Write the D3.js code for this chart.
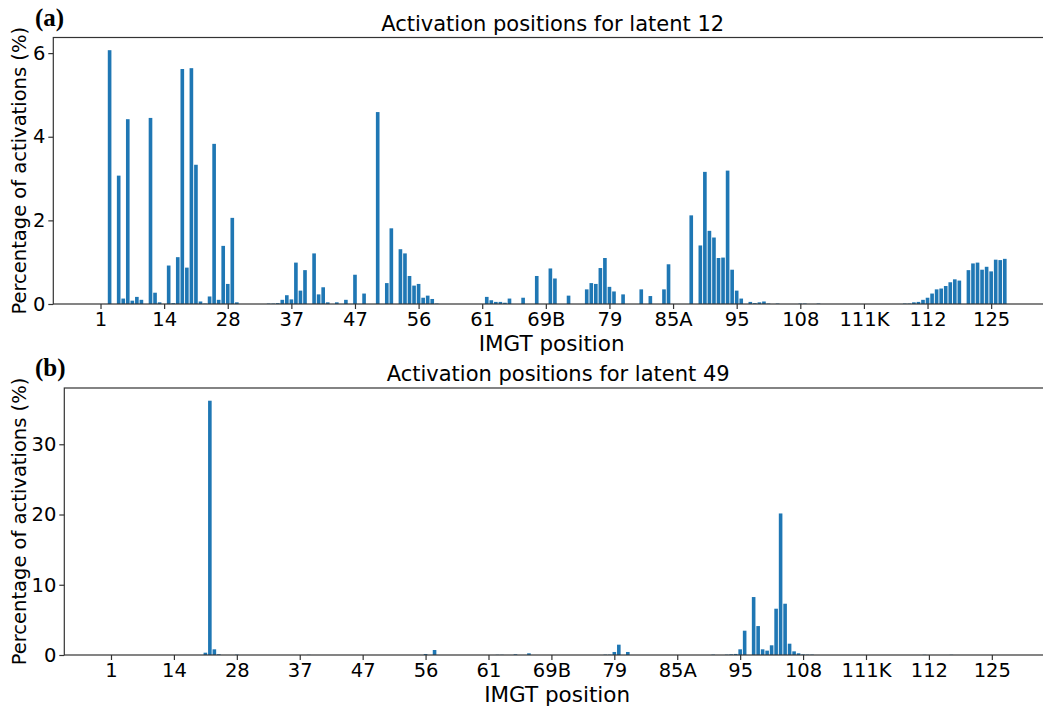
<!DOCTYPE html>
<html>
	<head>
		<meta charset="utf-8">
		<title>Activation positions</title>
		<style>
			body { margin: 0; background: #fff; }
			svg { display: block; }
			text { font-family: "DejaVu Sans", sans-serif; fill: #000; }
		</style>
	</head>

	<body>
		<script src="https://d3js.org/d3.v7.min.js"></script>

		<script>
		// IMGT tick labels, one every 14 positions
		var tickLabels = ["1", "14", "28", "37", "47", "56", "61", "69B", "79", "85A", "95", "108", "111K", "112", "125"];

		// percentage of activations per position (200 positions)
		var latent12 = [
			0, 0, 6.07, 0, 3.07, 0.13, 4.42, 0.08, 0.17, 0.10, 0, 4.45, 0.27, 0.04, 0, 0.92, 0.02, 1.12, 5.62, 0.87,
			5.64, 3.33, 0.06, 0.01, 0.18, 3.83, 0.10, 1.39, 0.48, 2.06, 0.04, 0, 0, 0, 0, 0, 0, 0.01, 0.01, 0.02,
			0.10, 0.21, 0.11, 0.99, 0.32, 0.81, 0, 1.21, 0.23, 0.40, 0.04, 0, 0.04, 0, 0.10, 0, 0.70, 0, 0.25, 0,
			0, 4.59, 0, 0.50, 1.81, 0, 1.31, 1.21, 0.67, 0.44, 0.48, 0.15, 0.20, 0.12, 0.01, 0, 0, 0, 0, 0,
			0, 0, 0, 0, 0, 0.17, 0.09, 0.05, 0.05, 0.03, 0.13, 0, 0, 0.15, 0, 0, 0.67, 0, 0, 0.85,
			0.61, 0, 0, 0.20, 0, 0, 0, 0.35, 0.50, 0.48, 0.86, 1.10, 0.41, 0.30, 0, 0.23, 0, 0, 0, 0.35,
			0, 0.19, 0, 0, 0.35, 0.95, 0, 0, 0, 0, 2.12, 0, 1.40, 3.16, 1.75, 1.59, 1.10, 1.11, 3.19, 0.82,
			0.32, 0.13, 0, 0.05, 0.02, 0.04, 0.06, 0.01, 0, 0.01, 0, 0, 0, 0, 0.01, 0.01, 0, 0, 0.01, 0,
			0, 0, 0, 0, 0, 0, 0, 0, 0, 0, 0, 0, 0, 0, 0, 0, 0, 0.01, 0.01, 0.04,
			0.05, 0.10, 0.15, 0.25, 0.35, 0.37, 0.43, 0.52, 0.59, 0.56, 0, 0.81, 0.97, 0.99, 0.82, 0.89, 0.78, 1.06, 1.05, 1.08
		];

		var latent49 = [
			0, 0, 0, 0, 0, 0, 0, 0, 0, 0, 0, 0, 0, 0, 0, 0, 0, 0, 0, 0,
			0, 0.33, 36.2, 0.81, 0.10, 0, 0, 0, 0.05, 0, 0, 0, 0, 0, 0, 0, 0, 0, 0, 0,
			0, 0, 0, 0, 0.03, 0, 0, 0, 0, 0, 0, 0, 0, 0, 0, 0, 0, 0, 0, 0,
			0, 0, 0, 0, 0, 0, 0, 0, 0, 0, 0.14, 0, 0.71, 0, 0, 0, 0, 0, 0, 0,
			0, 0, 0, 0, 0, 0, 0.03, 0.03, 0, 0, 0.10, 0, 0, 0.24, 0, 0, 0, 0, 0, 0,
			0, 0, 0, 0, 0, 0, 0, 0, 0, 0, 0.05, 0.05, 0.43, 1.47, 0, 0.43, 0, 0, 0, 0,
			0, 0, 0, 0, 0, 0, 0, 0, 0, 0, 0, 0, 0, 0, 0.05, 0, 0, 0.05, 0.10, 0.15,
			0.81, 3.46, 0, 8.25, 4.12, 0.81, 0.62, 1.38, 6.59, 20.15, 7.30, 1.61, 0.52, 0.24, 0.08, 0.05, 0.05, 0, 0, 0,
			0, 0, 0, 0, 0, 0, 0, 0, 0, 0, 0, 0, 0, 0, 0, 0, 0, 0, 0, 0,
			0, 0.03, 0, 0, 0, 0, 0, 0.03, 0, 0, 0, 0, 0, 0, 0, 0, 0, 0, 0, 0
		];

		var yTicks12 = [0, 2, 4, 6];
		var yTicks49 = [0, 10, 20, 30];

		var svg = d3.select("body").append("svg")
					.attr("width", 1043)
					.attr("height", 706);

		function drawPanel(values, yTicks, letter, title, box) {
			var n = values.length;
			// matplotlib style limits: bar width 0.8 plus 5% margins
			var pad = 0.05 * (n - 0.2);
			var x = d3.scaleLinear()
					.domain([-0.4 - pad, n - 0.6 + pad])
					.range([box.left, box.right]);
			var y = d3.scaleLinear()
					.domain([0, d3.max(values) * 1.05])
					.range([box.bottom, box.top]);

			var g = svg.append("g");

			g.selectAll("rect.bar")
				.data(values)
				.enter()
				.append("rect")
					.attr("class", "bar")
					.attr("x", function (d, i) { return x(i - 0.4); })
					.attr("width", function (d, i) { return x(i + 0.4) - x(i - 0.4); })
					.attr("y", function (d) { return y(d); })
					.attr("height", function (d) { return box.bottom - y(d); })
					.style("fill", "#1f77b4");

			var xAxis = d3.axisBottom(x)
					.tickValues(tickLabels.map(function (d, i) { return i * 14; }))
					.tickFormat(function (d) { return tickLabels[d / 14]; })
					.tickSize(5)
					.tickPadding(3)
					.tickSizeOuter(0);

			var gx = g.append("g")
					.attr("transform", "translate(0," + box.bottom + ")")
					.call(xAxis);

			var yAxis = d3.axisLeft(y)
					.tickValues(yTicks)
					.tickFormat(d3.format("d"))
					.tickSize(5)
					.tickPadding(3)
					.tickSizeOuter(0);

			var gy = g.append("g")
					.attr("transform", "translate(" + box.left + ",0)")
					.call(yAxis);

			[gx, gy].forEach(function (a) {
				a.select(".domain").remove();
				a.selectAll("line").style("stroke", "#333").style("stroke-width", 1.2);
				a.selectAll("text")
					.style("font-family", "DejaVu Sans")
					.style("font-size", "19.5px")
					.style("fill", "#000");
			});

			// frame
			g.append("rect")
				.attr("x", box.left)
				.attr("y", box.top)
				.attr("width", box.right - box.left)
				.attr("height", box.bottom - box.top)
				.style("fill", "none")
				.style("stroke", "#333")
				.style("stroke-width", 1.2);

			g.append("text")
				.attr("x", (box.left + box.right) / 2)
				.attr("y", box.top - 7)
				.attr("text-anchor", "middle")
				.style("font-size", "21px")
				.text(title);

			g.append("text")
				.attr("x", (box.left + box.right) / 2 - 1)
				.attr("y", box.bottom + 47)
				.attr("text-anchor", "middle")
				.style("font-size", "21.5px")
				.text("IMGT position");

			g.append("text")
				.attr("transform", "translate(26," + (box.top + box.bottom) / 2 + ") rotate(-90)")
				.attr("text-anchor", "middle")
				.style("font-size", "19.5px")
				.text("Percentage of activations (%)");

			g.append("text")
				.attr("x", 35)
				.attr("y", box.top - 12)
				.style("font-family", "Liberation Serif")
				.style("font-weight", "bold")
				.style("font-size", "25px")
				.text(letter);
		}

		drawPanel(latent12, yTicks12, "(a)", "Activation positions for latent 12",
			{ left: 53.3, right: 1052, top: 37.5, bottom: 304 });
		drawPanel(latent49, yTicks49, "(b)", "Activation positions for latent 49",
			{ left: 64.3, right: 1052, top: 388, bottom: 655 });

		</script>
	</body>
</html>
